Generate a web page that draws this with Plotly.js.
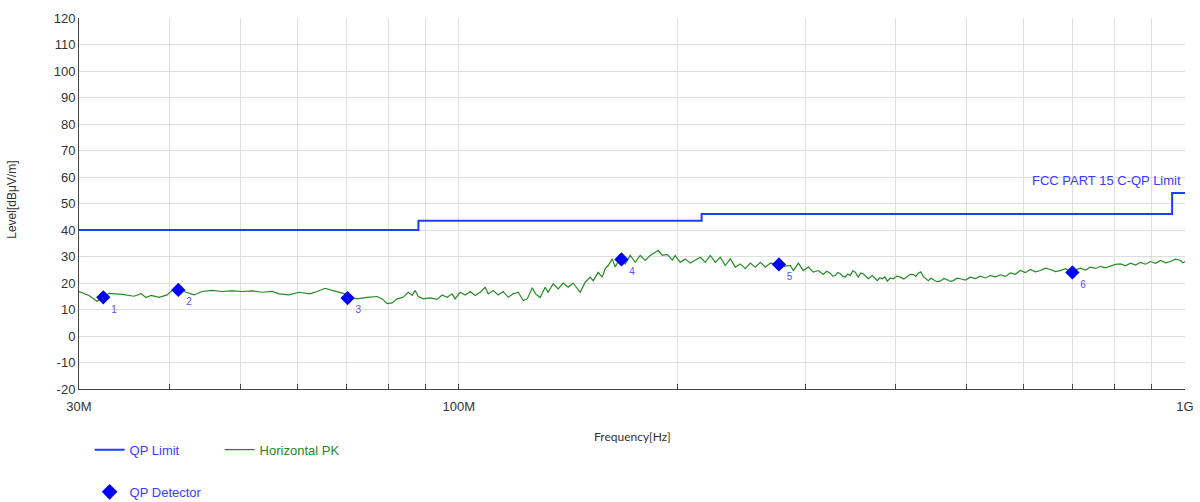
<!DOCTYPE html>
<html>
<head>
<meta charset="utf-8">
<script src="https://cdn.plot.ly/plotly-3.0.1.min.js"></script>
<style>html,body{margin:0;padding:0;background:#fff;}#chart{width:1200px;height:502px;}</style>
</head>
<body>
<div id="chart"></div>
<script>
// Frequencies in MHz
const limitFreq = [30, 88, 88, 216, 216, 960, 960, 1000];
const limitLevel = [40, 40, 43.5, 43.5, 46, 46, 54, 54];

const pkFreq = [30.00,30.97,31.76,32.47,32.99,34.39,35.71,36.52,37.10,37.70,38.67,39.66,40.55,41.20,42.13,43.21,44.32,45.75,47.22,48.74,50.31,51.93,53.60,55.33,56.58,58.40,60.27,62.42,63.81,65.45,66.93,68.20,69.74,70.86,72.45,74.79,77.20,78.44,79.68,80.96,82.25,83.84,85.18,86.27,87.09,87.92,89.32,91.34,93.38,94.87,96.39,97.93,98.86,100.45,102.06,103.70,105.36,107.02,108.74,109.79,111.53,113.31,115.13,116.98,118.85,120.76,122.69,124.26,126.25,127.45,129.46,131.53,132.78,134.91,137.07,139.26,141.49,143.73,146.97,149.32,151.72,153.16,155.61,157.60,159.10,160.64,162.69,164.24,166.87,169.54,172.25,174.98,177.78,180.63,183.53,186.47,188.23,190.60,193.65,196.76,198.63,201.81,205.05,208.34,211.68,215.07,218.52,221.97,225.53,229.14,232.82,236.55,240.34,244.19,248.11,252.03,256.07,260.17,264.34,268.58,274.58,279.88,286.13,288.92,293.55,298.07,302.85,307.70,312.63,317.64,321.1,324.74,327.3,329.94,332.6,335.23,337.9,340.60,343.3,346.04,348.8,351.58,354.91,357.7,360.60,363.5,366.38,371.05,374.0,376.99,380.0,383.03,386.1,389.10,392.8,396.61,401.1,405.58,410.1,414.64,418.6,422.64,425.9,429.32,432.7,436.20,439.7,443.19,446.7,450.29,455.3,460.46,465.6,470.75,475.3,479.83,485.2,490.55,498.4,506.41,514.4,522.54,530.9,539.42,548.1,556.85,565.8,574.84,584.0,593.30,602.8,612.47,622.3,632.25,642.4,652.68,663.1,673.64,684.4,695.40,706.5,717.86,729.4,741.06,752.9,764.85,777.1,789.56,802.2,815.07,828.1,841.40,854.8,868.42,882.3,896.48,910.8,925.44,940.2,955.34,970.5,986.02,993.0,1000.0];
const pkLevel = [16.8,15.3,13.1,14.6,16.1,15.7,15.0,16.0,14.5,15.3,14.6,15.5,17.8,18.0,16.5,15.5,16.8,17.2,16.8,17.0,16.8,17.0,16.5,16.8,15.9,15.5,16.5,15.9,16.8,18.0,17.2,16.5,15.9,14.6,14.0,14.6,14.9,14.0,12.2,12.5,14.0,14.6,16.5,15.3,17.2,15.0,14.0,14.4,13.8,15.5,14.6,15.9,14.0,16.5,15.5,16.8,15.3,16.5,18.4,15.9,17.2,15.5,16.8,14.6,15.9,16.5,13.4,14.0,18.2,16.0,14.5,18.4,16.5,19.7,17.8,20.0,18.4,20.0,16.5,20.3,22.2,20.9,24.0,22.2,25.4,26.6,29.1,26.0,29.7,27.2,30.4,27.8,30.4,28.5,30.4,31.6,32.3,30.4,30.8,28.7,30.4,27.8,29.1,27.5,28.5,29.7,27.8,30.4,27.8,29.7,26.6,29.1,26.0,27.2,25.4,27.5,26.0,27.8,26.0,27.5,27.2,26.3,26.6,24.7,27.5,24.7,26.0,24.1,24.7,23.2,24.4,23.7,22.6,22.8,24.0,23.5,22.5,22.2,23.4,22.8,24.6,24.1,22.2,23.8,23.5,22.4,21.6,22.8,21.9,20.9,22.0,21.6,22.3,20.7,21.9,21.6,22.6,22.2,21.5,22.4,23.3,23.2,22.5,23.7,24.2,22.4,21.6,20.9,21.8,21.2,20.5,20.7,21.7,21.2,20.6,20.9,21.8,21.6,21.1,22.2,21.7,22.6,21.9,22.8,22.3,23.1,22.5,23.8,23.3,24.7,23.9,25.1,24.2,24.7,25.6,25.1,24.3,24.7,25.4,24.3,25.0,25.6,24.9,26.0,25.5,26.3,25.7,26.3,27.0,27.2,26.5,27.5,26.8,27.8,27.1,28.1,27.4,28.5,27.6,28.1,29.0,28.5,27.6,28.1];

const qpFreq = [32.4, 41.1, 70.3, 167.5, 276, 699.7];
const qpLevel = [14.6, 17.4, 14.3, 28.9, 27.0, 24.0];
const qpLabels = ["1", "2", "3", "4", "5", "6"];

const xTickVals = [30, 100, 1000];
const xTickText = ["30M", "100M", "1G"];
const xMinorVals = [40,50,60,70,80,90,200,300,400,500,600,700,800,900];
const yTickVals = [-20,-10,0,10,20,30,40,50,60,70,80,90,100,110,120];
const yTickText = ["-20","-10","0","10","20","30","40","50","60","70","80","90","100","110","120"];

const blue = "#1f3dff";
const green = "#258a25";
const textBlue = "#3b3bff";

const traces = [
  {
    x: limitFreq, y: limitLevel, type: "scatter", mode: "lines",
    name: "QP Limit", line: {color: blue, width: 2}, legend: "legend",
    hoverinfo: "skip"
  },
  {
    x: pkFreq, y: pkLevel, type: "scatter", mode: "lines",
    name: '<span style="color:' + green + '">Horizontal PK</span>',
    line: {color: green, width: 1.2}, legend: "legend"
  },
  {
    x: qpFreq, y: qpLevel, type: "scatter", mode: "markers+text",
    name: "QP Detector", text: qpLabels, textposition: "bottom right",
    textfont: {family: "Liberation Sans, Arial, sans-serif", size: 10, color: "#5a4dff"},
    marker: {symbol: "diamond", size: 11, color: "#0000ff"},
    legend: "legend2"
  }
];

const axisFont = {family: "Liberation Sans, Arial, sans-serif", size: 13, color: "#333"};
const grid = "#dedede";

const layout = {
  width: 1200, height: 502,
  margin: {l: 79, r: 15, t: 18, b: 113, autoexpand: false},
  paper_bgcolor: "#fff", plot_bgcolor: "#fff",
  showlegend: true,
  xaxis: {
    type: "log", range: [Math.log10(30), 3],
    tickmode: "array", tickvals: xTickVals, ticktext: xTickText,
    tickfont: axisFont, ticks: "inside", ticklen: 5, tickcolor: "#444",
    ticklabelstandoff: 5,
    showgrid: true, gridcolor: grid, gridwidth: 1,
    minor: {tickmode: "array", tickvals: xMinorVals, showgrid: true, gridcolor: grid, ticks: "inside", ticklen: 5, tickcolor: "#444"},
    showline: true, linecolor: "#444", linewidth: 1, zeroline: false,
    automargin: false
  },
  yaxis: {
    range: [-20, 120], tickmode: "array", tickvals: yTickVals, ticktext: yTickText,
    tickfont: axisFont, ticks: "",
    showgrid: true, gridcolor: grid, gridwidth: 1,
    showline: true, linecolor: "#444", linewidth: 1, zeroline: false,
    automargin: false
  },
  legend: {
    orientation: "h", x: 0.0096, y: 0.134, xref: "paper", yref: "container", xanchor: "left", yanchor: "top",
    entrywidth: 85, entrywidthmode: "pixels",
    font: {family: "Liberation Sans, Arial, sans-serif", size: 13, color: textBlue},
    bgcolor: "rgba(0,0,0,0)", borderwidth: 0, itemclick: false
  },
  legend2: {
    orientation: "h", x: 0.0096, y: 0.05, xref: "paper", yref: "container", xanchor: "left", yanchor: "top",
    font: {family: "Liberation Sans, Arial, sans-serif", size: 13, color: textBlue},
    itemsizing: "constant",
    bgcolor: "rgba(0,0,0,0)", borderwidth: 0, itemclick: false
  },
  annotations: [
    {
      text: "FCC PART 15 C-QP Limit", xref: "paper", yref: "y",
      x: 0.998, y: 58.7, xanchor: "right", yanchor: "middle", showarrow: false,
      font: {family: "Liberation Sans, Arial, sans-serif", size: 13, color: textBlue}
    },
    {
      text: "Frequency[Hz]", xref: "paper", yref: "paper",
      x: 0.5, y: -0.129, xanchor: "center", yanchor: "middle", showarrow: false,
      font: {family: "Lato, sans-serif", size: 12, color: "#333"}
    },
    {
      text: "Level[dBμV/m]", xref: "paper", yref: "paper", textangle: -90,
      x: -0.0606, y: 0.51, xanchor: "center", yanchor: "middle", showarrow: false,
      font: {family: "Liberation Sans, Arial, sans-serif", size: 12, color: "#333"}
    }
  ]
};

Plotly.newPlot("chart", traces, layout, {displayModeBar: false, staticPlot: true});
</script>
</body>
</html>
